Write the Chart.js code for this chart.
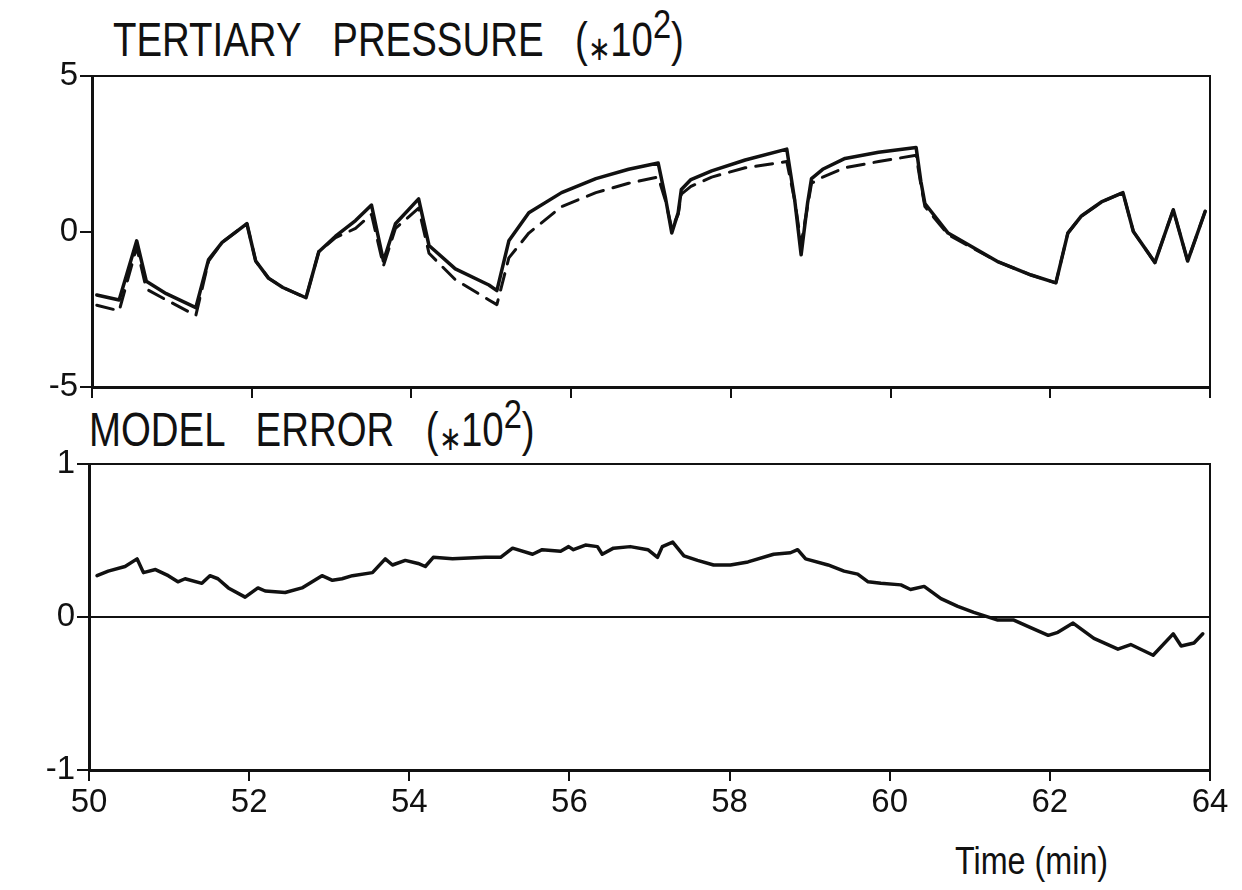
<!DOCTYPE html>
<html>
<head>
<meta charset="utf-8">
<script src="https://cdn.jsdelivr.net/npm/chart.js@4/dist/chart.umd.min.js"></script>
<style>
  body { margin: 0; background: #fff; width: 1242px; height: 890px; position: relative; overflow: hidden;
         font-family: 'Liberation Sans', sans-serif; color: #111; }
  .title { position: absolute; white-space: nowrap; font-size: 48px; line-height: 1;
           transform: scaleX(0.8); transform-origin: left top; word-spacing: 26px; }
  .title sup { font-size: 0.85em; vertical-align: 0; position: relative; top: -0.45em; }
  .title .star { font-size: 0.7em; position: relative; top: 0.12em; }
  .unit { position: absolute; white-space: nowrap; font-size: 38px; line-height: 1;
          transform: scaleX(0.85); transform-origin: left top; }
  .wrap { position: absolute; left: 0; width: 1242px; }
</style>
</head>
<body>
<div class="title" style="left:113px; top:16px;">TERTIARY PRESSURE (<span class="star">∗</span>10<sup>2</sup>)</div>
<div class="title" style="left:89px; top:406px;">MODEL ERROR (<span class="star">∗</span>10<sup>2</sup>)</div>
<div class="unit" style="left:955px; top:842px;">Time (min)</div>

<div class="wrap" style="top:0; height:420px;"><canvas id="pressure" width="1242" height="420"></canvas></div>
<div class="wrap" style="top:420px; height:470px;"><canvas id="error" width="1242" height="470"></canvas></div>

<script>
// tertiary pressure (x10^2), measured (solid) and model (dashed)
const pTime = [50.06, 50.34, 50.56, 50.68, 50.93, 51.30, 51.46, 51.63, 51.94, 52.05, 52.21, 52.39, 52.68,
               52.84, 53.05, 53.30, 53.50, 53.65, 53.80, 54.09, 54.22, 54.55, 54.97, 55.07, 55.22, 55.47,
               55.88, 56.31, 56.72, 57.09, 57.18, 57.26, 57.34, 57.38, 57.50, 57.76, 58.18, 58.70, 58.80,
               58.88, 58.96, 59.01, 59.15, 59.43, 59.85, 60.32, 60.38, 60.43, 60.72, 61.35, 61.76, 62.07,
               62.22, 62.39, 62.64, 62.91, 63.04, 63.31, 63.54, 63.72, 63.94];
const pMeasured = [-2.04, -2.2, -0.3, -1.6, -2.0, -2.45, -0.9, -0.35, 0.25, -0.95, -1.5, -1.8, -2.13,
                   -0.65, -0.15, 0.35, 0.85, -0.95, 0.25, 1.05, -0.45, -1.2, -1.72, -1.9, -0.3, 0.6,
                   1.25, 1.7, 2.0, 2.2, 1.1, -0.05, 0.6, 1.35, 1.67, 1.95, 2.3, 2.65, 1.0,
                   -0.75, 0.9, 1.7, 2.0, 2.35, 2.55, 2.7, 1.6, 0.9, -0.05, -0.98, -1.4, -1.65,
                   -0.05, 0.5, 0.95, 1.25, 0.0, -1.0, 0.7, -0.95, 0.65];
const pModel = [-2.37, -2.55, -0.5, -1.85, -2.2, -2.7, -0.95, -0.35, 0.25, -0.95, -1.5, -1.8, -2.13,
                -0.65, -0.2, 0.1, 0.55, -1.1, 0.1, 0.75, -0.7, -1.55, -2.2, -2.35, -0.85, -0.05,
                0.8, 1.25, 1.55, 1.75, 1.0, 0.1, 0.55, 1.2, 1.45, 1.75, 2.05, 2.25, 1.0,
                -0.4, 0.8, 1.55, 1.75, 2.05, 2.25, 2.45, 1.5, 0.8, -0.1, -0.98, -1.4, -1.65,
                -0.05, 0.5, 0.95, 1.25, 0.0, -1.0, 0.7, -0.95, 0.65];

// model error (x10^2)
const eTime = [50.10, 50.24, 50.45, 50.60, 50.68, 50.83, 50.99, 51.11, 51.20, 51.41, 51.51, 51.61, 51.74,
               51.95, 52.11, 52.20, 52.45, 52.66, 52.91, 53.04, 53.16, 53.29, 53.54, 53.70, 53.79, 53.95,
               54.11, 54.20, 54.30, 54.54, 54.95, 55.14, 55.29, 55.54, 55.66, 55.89, 55.99, 56.05, 56.20,
               56.35, 56.41, 56.55, 56.76, 56.98, 57.10, 57.16, 57.29, 57.43, 57.60, 57.80, 58.01, 58.23,
               58.55, 58.76, 58.85, 58.95, 59.23, 59.43, 59.60, 59.73, 59.89, 60.14, 60.26, 60.43, 60.64,
               60.85, 61.05, 61.35, 61.55, 61.76, 61.98, 62.10, 62.29, 62.55, 62.85, 63.01, 63.29, 63.54,
               63.64, 63.80, 63.91];
const eValues = [0.27, 0.30, 0.33, 0.38, 0.29, 0.31, 0.27, 0.23, 0.25, 0.22, 0.27, 0.25, 0.19,
                 0.13, 0.19, 0.17, 0.16, 0.19, 0.27, 0.24, 0.25, 0.27, 0.29, 0.38, 0.34, 0.37,
                 0.35, 0.33, 0.39, 0.38, 0.39, 0.39, 0.45, 0.41, 0.44, 0.43, 0.46, 0.44, 0.47,
                 0.46, 0.41, 0.45, 0.46, 0.44, 0.39, 0.46, 0.49, 0.40, 0.37, 0.34, 0.34, 0.36,
                 0.41, 0.42, 0.44, 0.38, 0.34, 0.30, 0.28, 0.23, 0.22, 0.21, 0.18, 0.20, 0.12,
                 0.07, 0.03, -0.02, -0.02, -0.07, -0.12, -0.10, -0.04, -0.14, -0.21, -0.18, -0.25, -0.11,
                 -0.19, -0.17, -0.11];

const timeTicks = [50, 52, 54, 56, 58, 60, 62, 64];
const pressureTicks = [-5, 0, 5];
const errorTicks = [-1, 0, 1];

const ink = '#111';
Chart.defaults.font.family = "'Liberation Sans', sans-serif";
Chart.defaults.color = ink;

function points(xs, ys) {
    return xs.map((x, i) => ({ x: x, y: ys[i] }));
}

// top and right edges of the plot box
const framePlugin = {
    id: 'frame',
    afterDraw(chart) {
        const { ctx, chartArea: a } = chart;
        ctx.save();
        ctx.strokeStyle = ink;
        ctx.lineWidth = 2;
        ctx.beginPath();
        ctx.moveTo(a.left, a.top);
        ctx.lineTo(a.right, a.top);
        ctx.lineTo(a.right, a.bottom);
        ctx.stroke();
        ctx.restore();
    }
};

function xAxis(showLabels, height) {
    return {
        type: 'linear', min: 50, max: 64,
        afterBuildTicks: s => { s.ticks = timeTicks.map(v => ({ value: v })); },
        afterFit: s => { s.height = height; },
        border: { display: true, color: ink, width: 3 },
        grid: { drawOnChartArea: false, drawTicks: true, tickLength: 11, tickColor: ink, lineWidth: 2 },
        ticks: {
            display: showLabels, padding: 2, color: ink,
            font: { size: 33 },
            callback: v => v
        }
    };
}

function yAxis(min, max, tickValues, width, zeroLine) {
    return {
        type: 'linear', min: min, max: max,
        afterBuildTicks: s => { s.ticks = tickValues.map(v => ({ value: v })); },
        afterFit: s => { s.width = width; },
        border: { display: true, color: ink, width: 3 },
        grid: {
            drawOnChartArea: zeroLine, drawTicks: true, tickLength: 12, tickColor: ink, lineWidth: 2,
            color: ctx => (ctx.tick && ctx.tick.value === 0) ? ink : 'rgba(0,0,0,0)'
        },
        ticks: { padding: 2, color: ink, font: { size: 33 }, callback: v => v }
    };
}

const common = {
    responsive: false,
    animation: false,
    events: [],
    plugins: { legend: { display: false }, tooltip: { enabled: false } },
    elements: { point: { radius: 0 }, line: { tension: 0, borderJoinStyle: 'round', borderCapStyle: 'round' } }
};

new Chart(document.getElementById('pressure'), {
    type: 'scatter',
    data: {
        datasets: [
            { data: points(pTime, pModel), showLine: true, borderColor: ink, borderWidth: 3, borderDash: [17, 10] },
            { data: points(pTime, pMeasured), showLine: true, borderColor: ink, borderWidth: 3.5 }
        ]
    },
    options: Object.assign({}, common, {
        layout: { padding: { left: 0, right: 32, top: 76, bottom: 0 } },
        scales: {
            x: xAxis(false, 33),
            y: yAxis(-5, 5, pressureTicks, 92, false)
        }
    }),
    plugins: [framePlugin]
});

new Chart(document.getElementById('error'), {
    type: 'scatter',
    data: {
        datasets: [
            { data: points(eTime, eValues), showLine: true, borderColor: ink, borderWidth: 3.5 }
        ]
    },
    options: Object.assign({}, common, {
        layout: { padding: { left: 0, right: 32, top: 44, bottom: 0 } },
        scales: {
            x: xAxis(true, 120),
            y: yAxis(-1, 1, errorTicks, 89, true)
        }
    }),
    plugins: [framePlugin]
});
</script>
</body>
</html>
